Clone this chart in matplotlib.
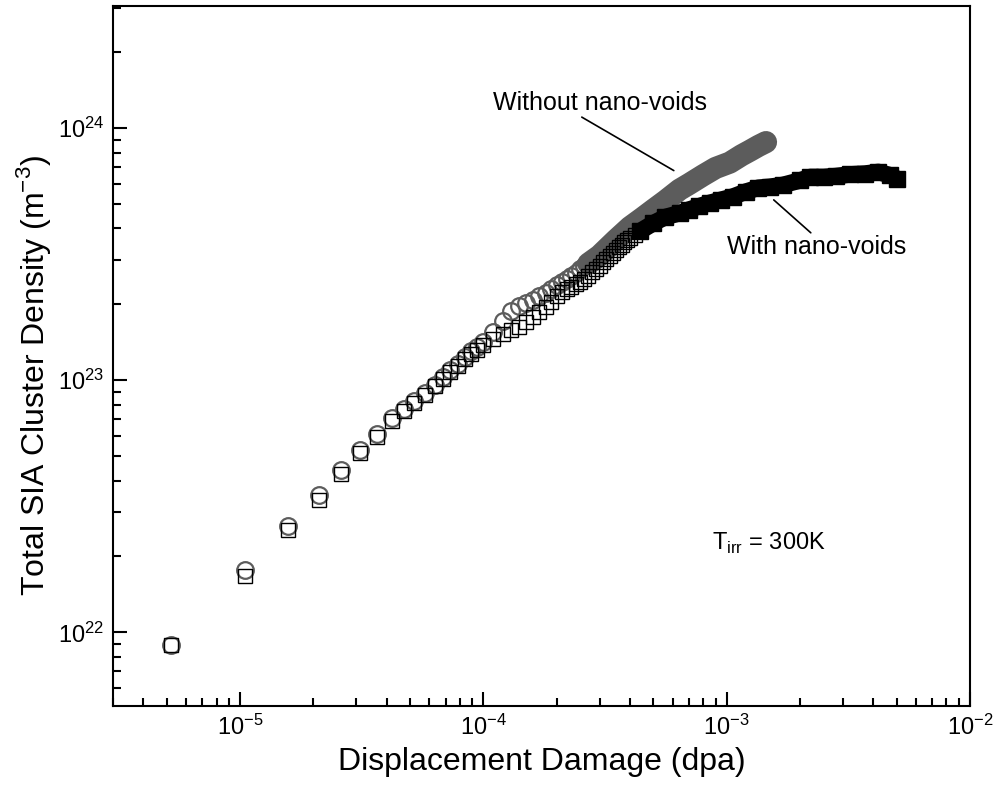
import matplotlib
matplotlib.use("Agg")
import matplotlib.pyplot as plt

plt.rcParams['font.family'] = ['Liberation Sans', 'DejaVu Sans']
plt.rcParams['axes.unicode_minus'] = False

# Without nano-voids (open circles), sparse part read point by point
x_wo = [5.2e-6, 1.05e-5, 1.57e-5, 2.1e-5, 2.6e-5, 3.1e-5, 3.65e-5, 4.2e-5, 4.7e-5,
        5.2e-5, 5.75e-5, 6.3e-5, 6.8e-5, 7.3e-5, 7.85e-5, 8.4e-5, 8.9e-5, 9.4e-5,
        1.0e-4, 1.1e-4, 1.2e-4, 1.3e-4, 1.4e-4, 1.5e-4, 1.6e-4, 1.7e-4, 1.8e-4,
        1.9e-4, 2.0e-4, 2.1e-4, 2.2e-4, 2.3e-4, 2.4e-4, 2.5e-4, 2.6e-4, 2.7e-4]
y_wo = [8.9e21, 1.76e22, 2.65e22, 3.5e22, 4.4e22, 5.3e22, 6.1e22, 7.1e22, 7.7e22,
        8.3e22, 8.9e22, 9.6e22, 1.03e23, 1.1e23, 1.16e23, 1.24e23, 1.3e23, 1.36e23,
        1.42e23, 1.55e23, 1.72e23, 1.88e23, 1.97e23, 2.03e23, 2.09e23, 2.15e23, 2.22e23,
        2.3e23, 2.38e23, 2.45e23, 2.52e23, 2.6e23, 2.67e23, 2.75e23, 2.83e23, 2.9e23]

# Without nano-voids, dense part (markers merge into a band)
x_wo_band = [2.7e-4, 3.0e-4, 3.5e-4, 4.0e-4, 4.5e-4, 5.0e-4, 5.6e-4, 6.4e-4, 7.0e-4,
             8.0e-4, 9.0e-4, 1.03e-3, 1.15e-3, 1.25e-3, 1.35e-3, 1.45e-3]
y_wo_band = [2.9e23, 3.12e23, 3.6e23, 4.05e23, 4.4e23, 4.75e23, 5.15e23, 5.7e23, 6.0e23,
             6.5e23, 6.95e23, 7.3e23, 7.8e23, 8.15e23, 8.5e23, 8.8e23]

# With nano-voids (open squares), sparse part
x_w = [5.2e-6, 1.05e-5, 1.57e-5, 2.1e-5, 2.6e-5, 3.1e-5, 3.65e-5, 4.2e-5, 4.7e-5,
       5.2e-5, 5.75e-5, 6.3e-5, 6.8e-5, 7.3e-5, 7.85e-5, 8.4e-5, 8.9e-5, 9.4e-5,
       1.0e-4, 1.1e-4, 1.2e-4, 1.3e-4, 1.4e-4, 1.5e-4, 1.6e-4, 1.7e-4, 1.8e-4,
       1.9e-4, 2.0e-4, 2.1e-4, 2.2e-4, 2.3e-4, 2.4e-4, 2.5e-4, 2.6e-4, 2.7e-4,
       2.8e-4, 2.9e-4, 3.0e-4, 3.1e-4, 3.2e-4, 3.3e-4, 3.4e-4, 3.5e-4, 3.6e-4,
       3.7e-4, 3.8e-4, 3.9e-4, 4.0e-4, 4.2e-4, 4.4e-4]
y_w = [8.9e21, 1.68e22, 2.55e22, 3.35e22, 4.25e22, 5.15e22, 5.95e22, 6.9e22, 7.55e22,
       8.15e22, 8.75e22, 9.45e22, 1.01e23, 1.08e23, 1.14e23, 1.21e23, 1.27e23, 1.32e23,
       1.38e23, 1.46e23, 1.53e23, 1.58e23, 1.63e23, 1.7e23, 1.78e23, 1.87e23, 1.96e23,
       2.05e23, 2.15e23, 2.24e23, 2.3e23, 2.35e23, 2.4e23, 2.45e23, 2.52e23, 2.6e23,
       2.68e23, 2.76e23, 2.85e23, 2.94e23, 3.03e23, 3.12e23, 3.21e23, 3.3e23, 3.37e23,
       3.44e23, 3.52e23, 3.59e23, 3.66e23, 3.78e23, 3.9e23]

# With nano-voids, dense part
x_w_band = [4.4e-4, 5.0e-4, 5.6e-4, 6.4e-4, 7.0e-4,
            7.7e-4, 8.5e-4, 9.5e-4, 1.06e-3, 1.2e-3, 1.35e-3, 1.5e-3, 1.7e-3, 2.0e-3,
            2.2e-3, 2.5e-3, 2.8e-3, 3.2e-3, 3.7e-3, 4.2e-3, 4.7e-3, 5.0e-3]
y_w_band = [3.9e23, 4.2e23, 4.44e23, 4.6e23, 4.75e23,
            4.9e23, 5.05e23, 5.2e23, 5.35e23, 5.6e23, 5.8e23, 5.85e23, 5.95e23, 6.2e23,
            6.4e23, 6.4e23, 6.45e23, 6.55e23, 6.6e23, 6.7e23, 6.5e23, 6.3e23]

gray = '#5c5c5c'

fig = plt.figure(figsize=(9.99, 7.85), dpi=100)
ax = fig.add_axes([0.113, 0.1006, 0.858, 0.8917])

# circles first, squares drawn over them
ax.plot(x_wo_band, y_wo_band, '-', color=gray, lw=16, solid_capstyle='round', zorder=2)
ax.plot(x_wo, y_wo, 'o', mfc='none', mec=gray, ms=12, mew=1.6, zorder=2)
ax.plot(x_w_band, y_w_band, '-', color='black', lw=12, solid_capstyle='butt', zorder=3)
ax.plot(x_w_band, y_w_band, 's', mfc='black', mec='black', ms=12, zorder=3)
ax.plot(x_w, y_w, 's', mfc='none', mec='black', ms=9.5, mew=1.0, zorder=3)

ax.set_xscale('log')
ax.set_yscale('log')
ax.set_xlim(3.0e-6, 1e-2)
ax.set_ylim(5.1e21, 3.05e24)

ax.tick_params(which='both', direction='in', width=1.5, top=False, right=False)
ax.tick_params(which='major', length=10, labelsize=17)
ax.tick_params(which='minor', length=5.5)
ax.tick_params(axis='y', pad=6)
ax.tick_params(axis='x', pad=6)
for sp in ax.spines.values():
    sp.set_linewidth(1.5)

ax.set_xlabel('Displacement Damage (dpa)', fontsize=23)
ax.xaxis.set_label_coords(0.5, -0.058)
ax.set_ylabel(r'Total SIA Cluster Density (m$^{\mathregular{-3}}$)', fontsize=23)
ax.yaxis.set_label_coords(-0.07, 0.473)

# annotations
ax.annotate('', xy=(6.2e-4, 6.7e23), xytext=(2.48e-4, 1.12e24),
            arrowprops=dict(arrowstyle='-', color='black', lw=1.2))
ax.text(1.09e-4, 1.26e24, 'Without nano-voids', fontsize=18, ha='left', va='center')
ax.annotate('', xy=(2.26e-3, 3.78e23), xytext=(1.53e-3, 5.28e23),
            arrowprops=dict(arrowstyle='-', color='black', lw=1.2))
ax.text(1.0e-3, 3.39e23, 'With nano-voids', fontsize=18, ha='left', va='center')
ax.text(8.67e-4, 2.25e22, r'T$_{\mathregular{irr}}$ = 300K', fontsize=17, ha='left', va='center')

fig.savefig('out.png', dpi=100)
